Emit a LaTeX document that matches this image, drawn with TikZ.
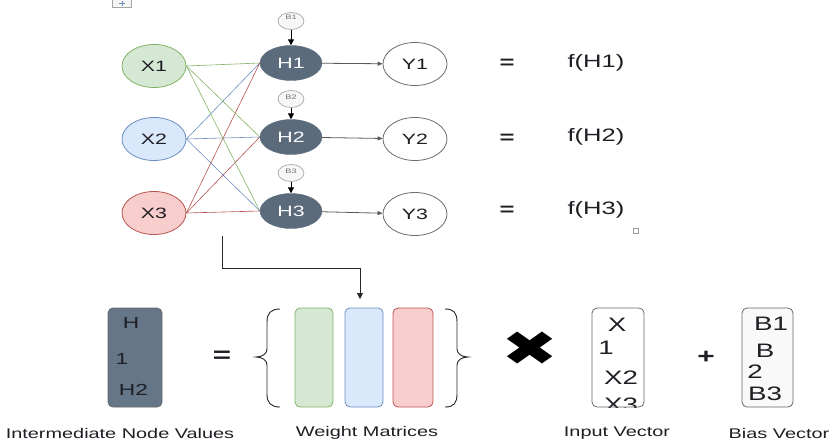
\documentclass[tikz,border=0pt]{standalone}
\usepackage{fontspec}
\setmainfont[FakeStretch=1.42]{Liberation Sans}
\newfontfamily\dejavu[FakeStretch=1.42]{DejaVu Sans}
\usetikzlibrary{shapes.geometric,arrows.meta,calc}
\definecolor{gfill}{HTML}{D5E8D4}\definecolor{gline}{HTML}{82B366}
\definecolor{bfill}{HTML}{DAE8FC}\definecolor{bline}{HTML}{6C8EBF}
\definecolor{rfill}{HTML}{F8CECC}\definecolor{rline}{HTML}{B85450}
\definecolor{hfill}{HTML}{5B6B7C}\definecolor{hvfill}{HTML}{647687}
\definecolor{txt}{HTML}{1E1E24}
\begin{document}
\begin{tikzpicture}[x=1pt,y=-1pt,
  xin/.style={ellipse,draw,line width=0.8pt,minimum width=64pt,minimum height=43pt,inner sep=0pt,font=\fontsize{15}{18}\selectfont,text=txt},
  hid/.style={ellipse,draw=hfill,fill=hfill,minimum width=62pt,minimum height=35pt,inner sep=0pt,text=white,font=\fontsize{15}{18}\selectfont},
  bias/.style={ellipse,draw=gray!70,fill=gray!6,line width=0.7pt,minimum width=26pt,minimum height=17pt,inner sep=0pt,text=gray!90!black,font=\fontsize{6.5}{7}\selectfont},
  yout/.style={ellipse,draw=gray!85!black,fill=white,line width=0.8pt,minimum width=64pt,minimum height=43pt,inner sep=0pt,font=\fontsize{15}{18}\selectfont,text=txt},
  lbl/.style={font=\fontsize{18}{20}\selectfont,text=txt},
  eqs/.style={font=\bfseries\fontsize{18}{20}\selectfont,text=txt},
  vec/.style={rounded corners=5pt,draw=gray!80!black,line width=0.8pt,minimum width=51pt,minimum height=99pt,inner sep=0pt},
  vtxt/.style={font=\fontsize{19.5}{22}\selectfont,text=txt,inner sep=0pt},
  htxt/.style={font=\fontsize{16}{20}\selectfont,text=txt,inner sep=0pt},
  captxt/.style={font=\fontsize{14}{16}\selectfont,text=txt},
  tipB/.style={-{Triangle[width=6pt,length=6pt]}},
  tipS/.style={-{Triangle[width=4pt,length=5pt]}}
]
\useasboundingbox (0,0) rectangle (832,440);

% top-left icon
\node[draw=gray!70,fill=gray!8,minimum width=19pt,minimum height=9pt,inner sep=0pt] (icon) at (122,3) {};
\draw[bline,line width=1pt] ($(icon.center)+(-3,0)$) -- ($(icon.center)+(3,0)$);
\draw[bline,line width=1pt] ($(icon.center)+(0,-2)$) -- ($(icon.center)+(0,3)$);

% input nodes
\node[xin,draw=gline,fill=gfill] (X1) at (154,66) {X1};
\node[xin,draw=bline,fill=bfill] (X2) at (154,139) {X2};
\node[xin,draw=rline,fill=rfill] (X3) at (154,213) {X3};

% hidden nodes
\node[hid] (H1) at (291,63) {H1};
\node[hid] (H2) at (291,137) {H2};
\node[hid] (H3) at (291,211) {H3};

% bias nodes
\node[bias] (B1) at (291,21) {\raisebox{7pt}{B1}};
\node[bias] (B2) at (291,99) {\raisebox{3pt}{B2}};
\node[bias] (B3) at (291,173) {\raisebox{3pt}{B3}};

% output nodes
\node[yout] (Y1) at (415,64) {Y1};
\node[yout] (Y2) at (415,139) {Y2};
\node[yout] (Y3) at (415,214) {Y3};

% connections
\foreach \h in {1,2,3}{
  \draw[gline,line width=0.6pt] (X1.east) -- (H\h.west);
  \draw[bline,line width=0.6pt] (X2.east) -- (H\h.west);
  \draw[rline,line width=0.6pt] (X3.east) -- (H\h.west);
  \draw[tipB,line width=1pt,black] (B\h) -- (H\h);
  \draw[tipS,line width=0.8pt,gray!70!black] (H\h) -- (Y\h);
}

% equations
\node[eqs] (e1) at (507,64) {=};
\node[eqs] (e2) at (507,139) {=};
\node[eqs] (e3) at (507,211) {=};
\node[lbl] (f1) at (596,63) {f(H1)};
\node[lbl] (f2) at (596,137) {f(H2)};
\node[lbl] (f3) at (596,210) {f(H3)};
\node[draw=gray!80,minimum size=5pt,inner sep=0pt,line width=0.6pt] (sq) at (636,231) {};

% bottom part
\node[vec,fill=hvfill,minimum width=54pt] (HV) at (135,357.5) {};
\node[htxt] (hv1) at (131,322.5) {H};
\node[htxt] (hv2) at (122,359) {1};
\node[htxt] (hv3) at (133.5,390) {H2};

\node[eqs,font=\bfseries\fontsize{22}{26}\selectfont] (eqb) at (222,357) {=};

% braces
\draw[gray!30!black,line width=0.9pt] (280,309) .. controls (271,309) and (267,313) .. (267,322) -- (267,349) .. controls (267,354) and (262,357) .. (256,357) .. controls (262,357) and (267,360) .. (267,365) -- (267,394) .. controls (267,403) and (271,407) .. (280,407);
\draw[gray!30!black,line width=0.9pt] (445,309) .. controls (454,309) and (457,313) .. (457,322) -- (457,349) .. controls (457,354) and (462,357) .. (468,357) .. controls (462,357) and (457,360) .. (457,365) -- (457,394) .. controls (457,403) and (454,407) .. (445,407);

\node[vec,draw=gline,fill=gfill,minimum width=38pt] (W1) at (314,357.5) {};
\node[vec,draw=bline,fill=bfill,minimum width=38pt] (W2) at (364,357.5) {};
\node[vec,draw=rline,fill=rfill,minimum width=40pt] (W3) at (413,357.5) {};

% routed arrow
\coordinate (s) at (222,236);
\coordinate (t) at (360,299);
\draw[tipB,line width=0.8pt,gray!30!black] (s) |- ($(t)+(0,-31)$) -- (t);

% times and plus
\node[text=black,font=\dejavu\bfseries\fontsize{48}{50}\selectfont,inner sep=0pt] (times) at (530,349) {✖};
\node[eqs,font=\bfseries\fontsize{21}{24}\selectfont] (plus) at (706,357) {+};

% input vector
\begin{scope}
\clip[rounded corners=5pt] (592,308) rectangle (644,407);
\node[vtxt] (iv1) at (617,325) {X};
\node[vtxt] (iv2) at (606,348) {1};
\node[vtxt] (iv3) at (621,378) {X2};
\node[vtxt] (iv4) at (621,405) {X3};
\end{scope}
\node[vec,fill=none,minimum width=52pt] (IV) at (618,357.5) {};

% bias vector
\node[vec,fill=gray!5] (BV) at (767.5,357.5) {};
\node[vtxt] (bv1) at (771,324) {B1};
\node[vtxt] (bv2) at (765,351) {B};
\node[vtxt] (bv3) at (755,372) {2};
\node[vtxt] (bv4) at (765,394) {B3};

% captions
\node[captxt] (c1) at (120,433) {Intermediate Node Values};
\node[captxt] (c2) at (367,433) {Weight Matrices};
\node[captxt] (c3) at (617,433) {Input Vector};
\node[captxt] (c4) at (779,433) {Bias Vector};
\end{tikzpicture}
\end{document}
